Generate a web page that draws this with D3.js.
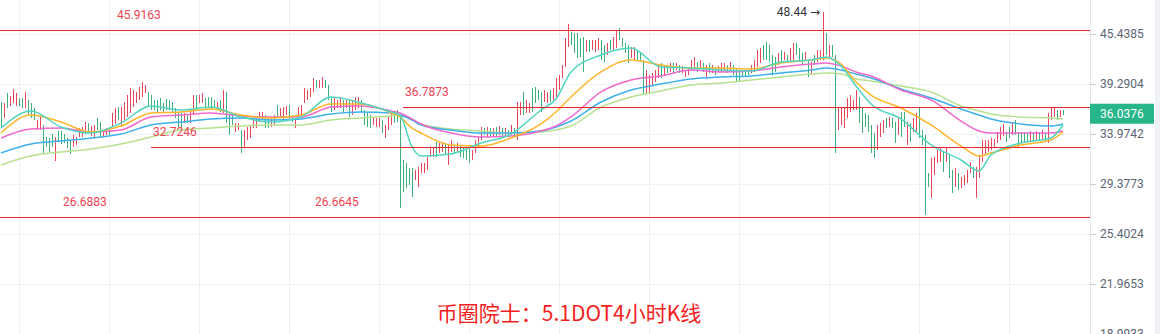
<!DOCTYPE html>
<html lang="zh">
<head>
    <meta charset="UTF-8">
    <title>币圈院士：5.1DOT4小时K线</title>
    <script src="https://d3js.org/d3.v7.min.js"></script>
    <style>
        html, body { margin: 0; padding: 0; background: #fff; }
        svg { display: block; }
        .axis-label { font: 12px Roboto, sans-serif; fill: #5b6573; }
        .level-label { font: 12px Roboto, sans-serif; fill: #ef4250; }
        .peak-label { font: 12px Roboto, "DejaVu Sans", sans-serif; fill: #333; }
        .title { font: 21px "Noto Sans CJK SC", sans-serif; fill: #f51d1d; }
    </style>
</head>
<body>
<div id="chart"></div>
<script>
    // Price axis labels (log scale)
    const yTicks = [45.4385, 39.2904, 33.9742, 29.3773, 25.4024, 21.9653, 18.9933];

    // 4h candles (high / low, R = up, G = down)
    const candleHigh = [
        37.29, 37.18, 38.28, 37.94, 38.72, 38.28, 37.72, 37.72, 38.39, 37.51,
        37.18, 36.64, 35.39, 35.80, 34.88, 33.68, 33.58, 33.97, 33.68, 34.27,
        34.27, 33.97, 33.58, 33.39, 33.88, 33.68, 34.57, 34.67, 35.18, 35.08,
        34.77, 34.88, 35.59, 35.18, 34.37, 34.57, 34.67, 36.12, 36.64, 36.75,
        36.75, 37.29, 38.05, 38.84, 38.61, 38.39, 38.95, 39.52, 39.18, 38.39,
        38.05, 37.51, 37.51, 37.72, 37.18, 37.61, 37.51, 37.29, 36.64, 36.12,
        36.12, 36.12, 35.90, 36.43, 38.05, 38.05, 38.05, 38.28, 37.72, 37.83,
        37.83, 37.51, 37.29, 37.51, 38.61, 38.39, 35.90, 35.90, 35.08, 35.08,
        34.37, 34.37, 34.67, 34.88, 35.39, 35.59, 36.22, 36.22, 35.90, 35.59,
        35.59, 35.90, 36.96, 36.64, 36.75, 36.86, 36.96, 35.90, 35.59, 36.75,
        36.96, 38.84, 38.61, 38.84, 39.98, 39.75, 39.75, 40.10, 39.75, 39.18,
        37.83, 37.83, 37.51, 37.83, 37.51, 37.51, 37.51, 37.51, 37.83, 37.83,
        37.51, 36.43, 36.12, 35.90, 35.70, 35.59, 35.59, 35.39, 34.88, 35.70,
        36.12, 36.12, 36.43, 35.90, 31.50, 31.23, 30.78, 30.78, 30.60, 30.87,
        31.23, 31.23, 31.78, 32.72, 32.72, 33.19, 33.10, 33.19, 33.10, 32.91,
        33.39, 32.91, 33.10, 32.91, 32.62, 32.43, 32.62, 32.43, 33.39, 33.78,
        34.67, 34.57, 34.67, 34.57, 34.57, 34.67, 34.77, 34.57, 34.57, 34.37,
        34.88, 34.57, 37.29, 37.29, 38.39, 37.51, 37.18, 38.84, 38.95, 38.61,
        38.39, 38.61, 38.39, 38.61, 38.84, 39.98, 40.33, 41.52, 44.91, 46.78,
        45.71, 45.57, 45.57, 44.91, 45.05, 44.65, 44.65, 44.65, 44.65, 44.91,
        44.65, 44.01, 44.27, 44.65, 45.05, 45.97, 46.24, 44.91, 44.27, 44.01,
        43.75, 43.75, 43.37, 43.12, 42.13, 40.92, 40.33, 40.57, 40.92, 41.52,
        41.77, 41.52, 41.52, 41.77, 41.77, 41.77, 41.52, 41.40, 40.92, 41.28,
        42.13, 42.50, 41.89, 42.13, 41.77, 41.52, 41.77, 41.52, 41.28, 41.40,
        41.77, 41.77, 41.52, 41.89, 41.52, 41.16, 40.92, 40.92, 40.92, 40.92,
        41.52, 42.13, 43.37, 43.63, 44.01, 44.40, 44.01, 42.75, 42.50, 43.00,
        43.37, 43.12, 42.75, 43.63, 44.27, 44.27, 43.63, 43.00, 43.12, 42.13,
        41.89, 42.75, 43.37, 43.37, 48.44, 45.57, 44.01, 44.01, 42.75, 36.75,
        36.75, 36.75, 37.72, 38.05, 37.51, 38.61, 37.83, 36.75, 36.12, 35.90,
        34.88, 34.07, 34.88, 35.08, 35.39, 35.59, 35.70, 35.59, 35.18, 35.59,
        36.22, 36.22, 35.18, 35.08, 35.59, 36.12, 36.64, 34.37, 33.88, 30.33,
        31.69, 31.78, 32.43, 32.62, 32.24, 32.62, 31.96, 30.60, 30.78, 30.33,
        29.98, 30.16, 30.60, 31.32, 30.87, 30.87, 31.96, 33.39, 33.39, 33.39,
        33.58, 33.48, 34.17, 34.67, 34.98, 34.17, 34.67, 35.08, 35.39, 34.17,
        34.17, 34.17, 34.07, 34.27, 34.17, 34.27, 34.17, 34.37, 34.07, 36.12,
        36.75, 36.75, 36.43, 36.43, 36.43
    ];
    const candleLow = [
        34.67, 35.59, 36.64, 36.86, 37.18, 36.86, 36.86, 36.64, 36.64, 35.90,
        35.59, 35.39, 34.37, 34.37, 32.15, 32.72, 32.24, 32.72, 31.41, 33.19,
        33.00, 33.10, 32.62, 32.06, 32.72, 32.91, 33.68, 33.68, 33.97, 34.07,
        33.78, 33.58, 34.37, 33.68, 33.68, 33.88, 33.88, 34.67, 34.98, 35.39,
        34.67, 35.39, 35.70, 36.12, 36.75, 37.18, 37.51, 37.83, 38.28, 36.75,
        36.43, 36.43, 36.12, 36.43, 36.22, 36.43, 36.43, 36.12, 35.59, 34.67,
        34.57, 35.08, 35.08, 35.08, 35.90, 36.43, 37.18, 37.18, 36.43, 36.64,
        36.43, 36.64, 36.43, 36.22, 36.12, 35.08, 33.88, 34.88, 34.17, 34.37,
        32.15, 32.72, 33.39, 33.58, 34.57, 34.57, 35.18, 35.39, 34.57, 34.57,
        34.67, 34.88, 35.70, 35.70, 35.39, 35.90, 35.39, 35.18, 34.57, 35.39,
        35.70, 37.18, 37.51, 37.83, 38.39, 38.84, 38.84, 38.84, 38.84, 37.51,
        36.22, 36.43, 36.64, 36.64, 36.22, 36.64, 35.70, 35.90, 36.43, 36.64,
        36.22, 34.88, 34.67, 34.57, 34.88, 34.67, 34.67, 34.07, 33.58, 34.37,
        34.88, 35.08, 35.18, 27.40, 28.70, 29.04, 29.29, 28.29, 29.72, 29.12,
        30.33, 30.33, 30.60, 31.78, 31.78, 31.78, 32.15, 32.24, 31.96, 31.05,
        32.24, 32.15, 32.15, 31.78, 31.69, 31.50, 31.23, 31.50, 32.15, 32.72,
        33.39, 33.88, 33.68, 33.78, 33.68, 33.68, 33.88, 33.68, 33.68, 33.68,
        33.88, 33.68, 33.39, 35.90, 35.90, 36.12, 36.12, 36.22, 37.18, 37.51,
        36.22, 37.29, 37.18, 37.29, 37.51, 37.83, 38.61, 39.98, 41.28, 43.75,
        44.01, 43.00, 42.38, 42.50, 40.69, 43.12, 43.12, 43.37, 43.12, 43.37,
        42.13, 41.89, 42.75, 43.37, 43.37, 43.63, 44.65, 43.75, 43.00, 41.77,
        42.38, 42.13, 42.13, 41.89, 38.05, 38.28, 38.28, 39.18, 39.52, 39.98,
        39.98, 40.33, 40.57, 40.69, 40.57, 40.92, 40.57, 40.57, 40.10, 40.33,
        40.92, 41.28, 40.69, 41.16, 40.69, 39.98, 40.57, 40.57, 40.33, 40.69,
        40.69, 40.92, 40.57, 40.69, 40.33, 39.52, 39.52, 40.10, 40.10, 40.33,
        40.57, 40.69, 41.28, 41.77, 42.13, 42.13, 41.89, 40.33, 40.69, 41.52,
        41.89, 42.13, 41.89, 41.89, 41.89, 42.75, 42.13, 41.52, 42.13, 40.10,
        40.33, 41.52, 41.89, 42.13, 42.13, 42.75, 42.38, 42.50, 32.15, 34.37,
        34.88, 34.57, 35.59, 36.22, 36.43, 36.43, 35.08, 34.07, 34.67, 34.17,
        32.15, 31.69, 32.43, 33.68, 34.07, 34.57, 34.67, 34.57, 33.10, 33.88,
        33.68, 34.67, 32.91, 33.19, 34.17, 34.07, 33.58, 32.91, 26.85, 29.12,
        28.21, 30.16, 31.23, 31.32, 30.42, 31.32, 29.90, 28.62, 29.12, 28.87,
        29.04, 29.29, 29.46, 30.33, 29.90, 28.21, 29.90, 31.32, 31.96, 32.24,
        32.43, 32.62, 33.10, 33.39, 33.78, 33.19, 33.58, 33.88, 33.88, 32.72,
        33.10, 33.10, 33.19, 33.19, 33.19, 33.39, 33.39, 33.39, 33.19, 33.10,
        35.39, 35.70, 35.39, 35.70, 35.90
    ];
    const candleColor = (
        "GRGRRRGGRG" + "GGRRGGGGRG" + "GGGGRRRRRG" + "RRGGRRGRRG" + "RRRRRRRRRG" +
        "GGGGGGGGGG" + "GRGRRGRRGG" + "GGRGRGGGRR" + "GRRRRRRRGG" + "RRGRRRGGRR" +
        "RRRRRGRRGG" + "GRRRGRGRRR" + "GGGGRRRGRR" + "RGGGGGGGRR" + "RRRRRGRRGR" +
        "RGRGGGGRRR" + "RGRGRGRGRG" + "RGRRGRRGGG" + "GRRGRRRRRR" + "GGGGGRGRRR" +
        "GGRGRRGGGG" + "RRGGGRRRRR" + "GRGRGRGRRR" + "RRGRGRGRGR" + "RRGRGGGGGG" +
        "RRRRGGGGGR" + "GRGRRGGGRG" + "RGRRRGRGGR" + "RRRRRRGGGG" + "GGRRRGRGGR" +
        "GGRGRRGGGG" + "RRRRGRGGRG" + "RRRRGRRRRR" + "RRRRRGGRGG" + "GGGRGRGRGR" +
        "RRGRG"
    ).split("");

    // Moving averages, sampled at these candle indices
    const maIdx = [0, 10, 20, 30, 40, 50, 60, 70, 80, 90, 100, 110, 120, 130, 133, 137, 140, 150, 160, 170,
        180, 185, 190, 200, 210, 220, 230, 240, 250, 260, 270, 275, 280, 285, 290, 300, 310, 320, 326, 330,
        340, 350, 354];
    const maTeal = [34.57, 36.33, 34.67, 34.07, 35.08, 36.86, 36.43, 36.75, 35.70, 35.18, 35.70, 37.83, 37.18, 36.22,
        35.90, 32.72, 31.87, 32.06, 33.10, 33.97, 36.43, 37.61, 40.69, 42.75, 43.63, 41.28, 41.16, 40.92, 40.81,
        41.89, 42.13, 42.50, 41.40, 39.06, 37.07, 35.49, 32.91, 31.50, 30.51, 31.96, 33.10, 33.58, 34.88];
    const maOrange = [34.07, 35.90, 35.18, 34.17, 34.77, 36.12, 36.22, 36.54, 35.90, 35.59, 35.90, 37.07, 37.07, 36.12,
        35.70, 34.57, 34.07, 32.91, 32.81, 33.58, 34.98, 36.22, 37.83, 40.69, 42.13, 41.52, 41.16, 41.16, 41.04,
        41.77, 42.13, 42.38, 41.64, 39.52, 38.05, 36.64, 34.88, 32.81, 31.87, 32.15, 32.91, 33.39, 34.17];
    const maPink = [33.58, 34.47, 34.57, 34.17, 34.37, 35.70, 35.90, 36.12, 35.80, 35.70, 35.70, 36.75, 36.86, 36.33,
        36.12, 35.49, 34.98, 34.07, 33.68, 33.78, 34.27, 34.77, 35.70, 38.39, 39.75, 40.22, 40.92, 40.69, 40.81,
        41.28, 41.64, 41.77, 41.40, 40.69, 40.22, 38.61, 37.51, 35.28, 34.27, 34.07, 34.07, 34.07, 34.27];
    const maBlue = [32.15, 33.00, 33.29, 33.58, 33.97, 34.88, 35.18, 35.49, 35.59, 35.39, 35.49, 36.01, 36.22, 36.12,
        35.90, 35.39, 34.88, 34.37, 34.07, 34.07, 34.27, 34.67, 35.28, 37.29, 38.61, 39.29, 39.87, 40.10, 40.22,
        40.57, 40.92, 41.16, 40.92, 40.45, 39.98, 38.72, 37.72, 36.54, 35.90, 35.49, 34.98, 34.77, 34.98];
    const maGreen = [31.05, 31.87, 32.24, 32.53, 33.00, 33.68, 34.37, 34.57, 34.77, 34.88, 34.88, 35.39, 35.59, 35.80,
        35.90, 35.49, 34.98, 34.47, 34.27, 34.07, 34.17, 34.37, 34.77, 36.75, 37.83, 38.50, 39.18, 39.41, 39.75,
        40.10, 40.45, 40.57, 40.45, 39.87, 39.64, 39.06, 38.39, 36.86, 36.33, 36.01, 35.70, 35.59, 35.49];

    // Drawn support / resistance levels
    const levelValues = [45.9163, 36.7873, 32.7246, 26.6883, 26.6645];
    const levelFrom = [-20, 134, 50, -20, -20];     // candle where the line starts
    const levelLabelAt = [38, 134, 50, 20, 104];    // candle where the label sits

    const lastPrice = 36.0376;
    const title = "币圈院士：5.1DOT4小时K线";

    // Layout
    const width = 1160, height = 334;
    const plotRight = 1090;

    const x = d3.scaleLinear().domain([0, candleHigh.length - 1]).range([1, 1063]);
    const y = d3.scaleLog().domain([yTicks[0], yTicks[yTicks.length - 1]]).range([34, 334]);
    const crisp = v => Math.round(v) + 0.5;

    const svg = d3.select("#chart").append("svg")
        .attr("width", width)
        .attr("height", height);

    svg.append("defs").append("clipPath").attr("id", "plot-clip")
        .append("rect").attr("x", 0).attr("y", 0).attr("width", plotRight).attr("height", height);

    const plot = svg.append("g").attr("clip-path", "url(#plot-clip)");

    // grid
    plot.selectAll(".hgrid").data(yTicks).join("line")
        .attr("class", "hgrid")
        .attr("x1", 0).attr("x2", plotRight)
        .attr("y1", d => crisp(y(d))).attr("y2", d => crisp(y(d)))
        .attr("stroke", "#eef1f5");
    plot.selectAll(".vgrid").data(d3.range(6, candleHigh.length, 30)).join("line")
        .attr("class", "vgrid")
        .attr("x1", d => crisp(x(d))).attr("x2", d => crisp(x(d)))
        .attr("y1", 0).attr("y2", height)
        .attr("stroke", "#eef1f5");

    // candles
    const candles = candleHigh.map((h, i) => ({ i, high: h, low: candleLow[i], up: candleColor[i] === "R" }));
    plot.selectAll(".candle").data(candles).join("rect")
        .attr("class", "candle")
        .attr("x", d => Math.round(x(d.i)))
        .attr("width", 1)
        .attr("y", d => y(d.high))
        .attr("height", d => Math.max(1, y(d.low) - y(d.high)))
        .attr("fill", d => d.up ? "#e8475b" : "#3bb079");

    // moving averages
    const maSeries = [
        { values: maGreen, color: "#b6e28f" },
        { values: maBlue, color: "#3eb0ea" },
        { values: maPink, color: "#f06acb" },
        { values: maOrange, color: "#ffb52c" },
        { values: maTeal, color: "#50d6be" }
    ];
    const maLine = d3.line()
        .x((d, k) => x(maIdx[k]))
        .y(d => y(d))
        .curve(d3.curveMonotoneX);
    plot.selectAll(".ma").data(maSeries).join("path")
        .attr("class", "ma")
        .attr("d", d => maLine(d.values))
        .attr("fill", "none")
        .attr("stroke", d => d.color)
        .attr("stroke-width", 1.5);

    // levels
    const levels = levelValues.map((v, k) => ({ v, from: levelFrom[k], at: levelLabelAt[k] }));
    plot.selectAll(".level").data(levels).join("line")
        .attr("class", "level")
        .attr("x1", d => Math.max(0, x(d.from))).attr("x2", plotRight)
        .attr("y1", d => crisp(y(d.v))).attr("y2", d => crisp(y(d.v)))
        .attr("stroke", "#f0262e");
    plot.selectAll(".level-label").data(levels).join("text")
        .attr("class", "level-label")
        .attr("x", d => x(d.at) + 2)
        .attr("y", d => Math.round(y(d.v)) - 11)
        .text(d => d3.format(".4f")(d.v));

    // highest point marker
    const peakIdx = d3.maxIndex(candleHigh);
    svg.append("text")
        .attr("class", "peak-label")
        .attr("x", x(peakIdx) - 3)
        .attr("y", y(candleHigh[peakIdx]) + 4)
        .attr("text-anchor", "end")
        .text(`${d3.format(".2f")(candleHigh[peakIdx])} →`);

    // right price axis
    svg.append("line")
        .attr("x1", plotRight + 0.5).attr("x2", plotRight + 0.5)
        .attr("y1", 0).attr("y2", height)
        .attr("stroke", "#e1e4e9");
    const axis = svg.append("g")
        .attr("transform", `translate(${plotRight},0)`)
        .call(d3.axisRight(y).tickValues(yTicks).tickSize(6).tickSizeOuter(0).tickPadding(4)
            .tickFormat(d3.format(".4f")));
    axis.select(".domain").remove();
    axis.selectAll(".tick line").attr("stroke", "#c9ced5");
    axis.selectAll(".tick text").attr("class", "axis-label").attr("fill", null);

    // last price tag
    const tag = svg.append("g").attr("transform", `translate(${plotRight},${y(lastPrice)})`);
    tag.append("rect")
        .attr("x", 0).attr("y", -10).attr("width", 64).attr("height", 20)
        .attr("fill", "#27b68a");
    tag.append("text")
        .attr("x", 10).attr("dy", "0.35em")
        .attr("fill", "#fff")
        .style("font", "12px Roboto, sans-serif")
        .text(d3.format(".4f")(lastPrice));

    // scrollbar strip
    svg.append("rect")
        .attr("x", 1155).attr("y", 0).attr("width", 5).attr("height", height)
        .attr("fill", "#f0f2f5");

    // caption
    svg.append("text")
        .attr("class", "title")
        .attr("x", 569).attr("y", 321)
        .attr("text-anchor", "middle")
        .text(title);
</script>
</body>
</html>
